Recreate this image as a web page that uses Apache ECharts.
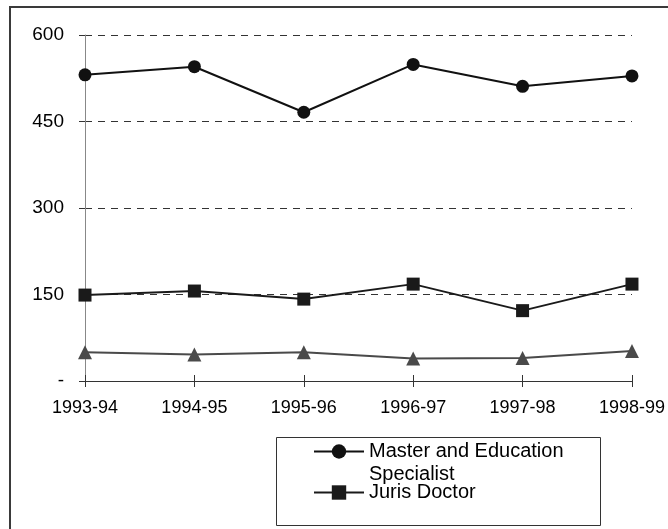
<!DOCTYPE html>
<html>
<head>
<meta charset="utf-8">
<script src="https://cdn.jsdelivr.net/npm/echarts@6/dist/echarts.min.js"></script>
<style>
  html, body { margin: 0; padding: 0; background: #fff; }
  #main { width: 668px; height: 529px; }
</style>
</head>
<body>
<div id="main"></div>
<script>
// data
let years = ['1993-94', '1994-95', '1995-96', '1996-97', '1997-98', '1998-99'];
let masterEdSpecialist = [531, 545, 466, 549, 511, 529];
let jurisDoctor = [149, 156, 142, 168, 122, 168];
let thirdSeries = [50, 46, 50, 39, 40, 52];
let yTicks = [0, 150, 300, 450, 600];

let font = 'Arial, "Liberation Sans", sans-serif';
let myChart = echarts.init(document.getElementById('main'));

myChart.setOption({
    animation: false,
    backgroundColor: '#fff',
    textStyle: { fontFamily: font },
    grid: { left: 85, right: 15, top: 35, bottom: 148 },
    // outer frame + legend box
    graphic: [
        { type: 'rect', shape: { x: 10, y: 7, width: 700, height: 600 },
          style: { fill: null, stroke: '#3a3a3a', lineWidth: 2 }, silent: true },
        { type: 'rect', shape: { x: 276.5, y: 437.5, width: 324, height: 88 },
          style: { fill: null, stroke: '#333', lineWidth: 1 }, silent: true }
    ],
    legend: [
        {
            data: ['Master and Education Specialist'],
            left: 313, top: 417, padding: 0,
            itemWidth: 50, itemHeight: 18,
            // blank first line keeps the icon level with the first text line
            formatter: function () { return ' \nMaster and Education\nSpecialist'; },
            textStyle: { fontFamily: font, fontSize: 20, color: '#000', lineHeight: 23 }
        },
        {
            data: ['Juris Doctor'],
            left: 313, top: 481, padding: 0,
            itemWidth: 50, itemHeight: 18,
            textStyle: { fontFamily: font, fontSize: 20, color: '#000', lineHeight: 23 }
        }
    ],
    xAxis: [
        {
            type: 'category', data: years, boundaryGap: false,
            axisLine: { lineStyle: { color: '#333', width: 1 } },
            axisTick: { length: 6, lineStyle: { color: '#333' } },
            axisLabel: { fontSize: 18, color: '#000', margin: 18, fontFamily: font }
        },
        {
            type: 'category', data: years, boundaryGap: false, position: 'bottom', offset: 0,
            axisLine: { show: false },
            axisTick: { inside: true, length: 6, lineStyle: { color: '#333' } },
            axisLabel: { show: false }
        }
    ],
    yAxis: {
        type: 'value', min: yTicks[0], max: yTicks[yTicks.length - 1], interval: 150,
        axisLine: { show: true, lineStyle: { color: '#888', width: 1 } },
        axisTick: { show: true, length: 6, lineStyle: { color: '#333' } },
        axisLabel: {
            fontSize: 19, color: '#000', margin: 21, fontFamily: font,
            formatter: function (v) { return v === 0 ? '-' : String(v); }
        },
        splitLine: { show: true, lineStyle: { color: '#333', type: [7, 6], width: 1 } }
    },
    series: [
        {
            name: 'Master and Education Specialist', type: 'line', data: masterEdSpecialist,
            symbol: 'circle', symbolSize: 13,
            lineStyle: { color: '#111', width: 2 },
            itemStyle: { color: '#111' }
        },
        {
            name: 'Juris Doctor', type: 'line', data: jurisDoctor,
            symbol: 'rect', symbolSize: 13,
            lineStyle: { color: '#1a1a1a', width: 2 },
            itemStyle: { color: '#1a1a1a' }
        },
        {
            name: 'Third series', type: 'line', data: thirdSeries,
            symbol: 'triangle', symbolSize: 14,
            lineStyle: { color: '#4a4a4a', width: 2 },
            itemStyle: { color: '#4a4a4a' }
        }
    ]
});
</script>
</body>
</html>
